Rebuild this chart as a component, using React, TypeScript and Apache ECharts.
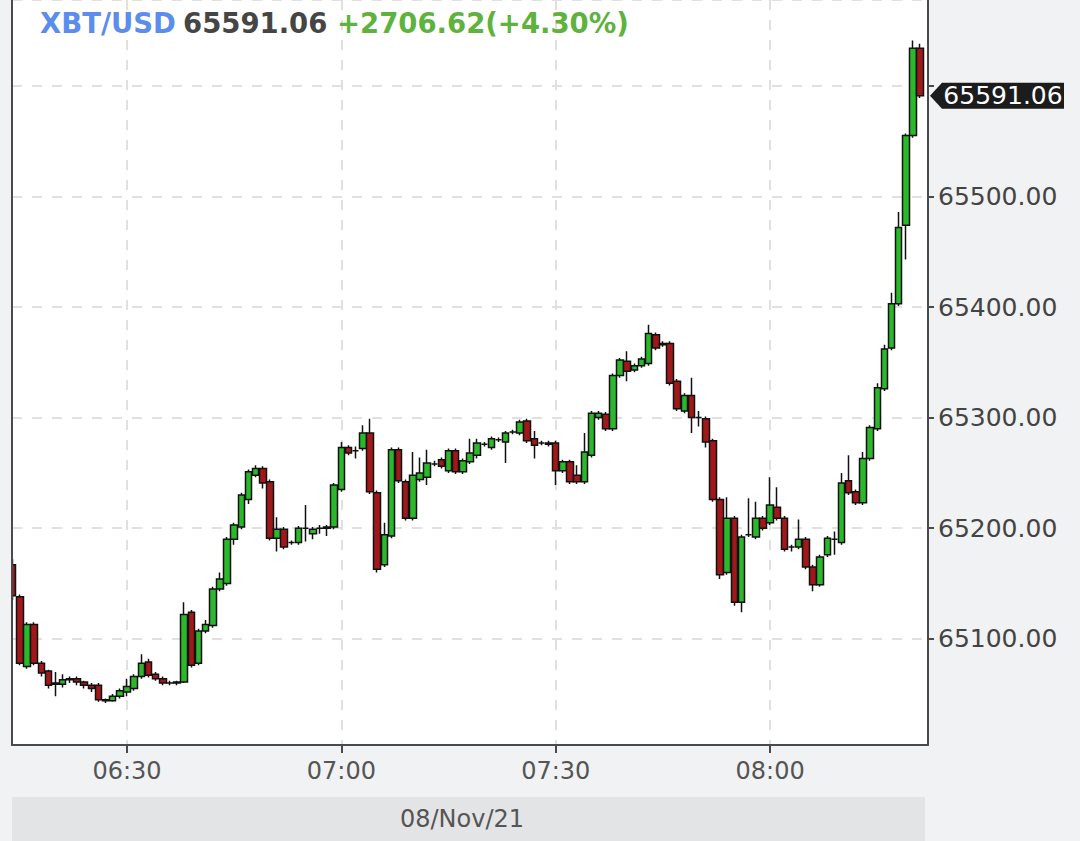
import React, { useEffect, useRef } from "react";
import * as echarts from "echarts";

// minutes after 06:00 of the first candle (06:14), one candle per minute
const FIRST_MINUTE = 14;

const opens = [
  65167, 65138, 65075, 65113, 65078, 65071, 65060, 65059, 65063, 65064,
  65061, 65058, 65058, 65045, 65044, 65048, 65052, 65055, 65066, 65079,
  65068, 65064, 65060, 65060, 65061, 65124, 65078, 65107, 65112, 65145,
  65150, 65190, 65201, 65226, 65248, 65254, 65242, 65191, 65199, 65187,
  65187, 65200, 65195, 65200, 65200, 65201, 65235, 65273, 65270, 65272,
  65286, 65232, 65167, 65193, 65271, 65242, 65209, 65244, 65246, 65258,
  65262, 65252, 65270, 65251, 65260, 65266, 65276, 65273, 65280, 65278,
  65287, 65286, 65297, 65281, 65277, 65277, 65277, 65252, 65260, 65248,
  65242, 65266, 65300, 65303, 65290, 65338, 65351, 65343, 65347, 65349,
  65375, 65367, 65367, 65333, 65306, 65320, 65300, 65299, 65279, 65226,
  65160, 65209, 65133, 65194, 65192, 65209, 65205, 65219, 65209, 65183,
  65183, 65190, 65165, 65149, 65176, 65190, 65187, 65243, 65233, 65223,
  65263, 65290, 65326, 65363, 65403, 65474, 65555, 65634,
];
const closes = [
  65139, 65078, 65113, 65078, 65069, 65058, 65059, 65063, 65064, 65061,
  65058, 65055, 65045, 65044, 65048, 65053, 65057, 65066, 65078, 65067,
  65064, 65060, 65060, 65061, 65122, 65076, 65107, 65113, 65145, 65154,
  65190, 65203, 65230, 65251, 65254, 65241, 65191, 65199, 65183, 65187,
  65200, 65200, 65199, 65200, 65201, 65239, 65273, 65268, 65270, 65286,
  65233, 65163, 65194, 65271, 65243, 65209, 65248, 65250, 65259, 65258,
  65256, 65270, 65251, 65261, 65268, 65277, 65276, 65281, 65280, 65286,
  65287, 65296, 65279, 65275, 65277, 65276, 65252, 65260, 65242, 65242,
  65269, 65304, 65304, 65290, 65338, 65352, 65342, 65347, 65353, 65376,
  65363, 65366, 65331, 65308, 65320, 65300, 65300, 65278, 65226, 65158,
  65209, 65133, 65192, 65194, 65209, 65200, 65221, 65209, 65181, 65183,
  65190, 65165, 65149, 65174, 65191, 65190, 65241, 65232, 65223, 65263,
  65291, 65327, 65362, 65403, 65472, 65555, 65634, 65591.06,
];
const lows = [
  65135, 65076, 65073, 65076, 65066, 65055, 65048, 65056, 65060, 65058,
  65055, 65052, 65043, 65042, 65043, 65046, 65048, 65053, 65064, 65065,
  65062, 65058, 65058, 65058, 65060, 65074, 65076, 65105, 65110, 65143,
  65148, 65185, 65199, 65222, 65246, 65236, 65189, 65179, 65181, 65185,
  65185, 65188, 65190, 65195, 65193, 65199, 65233, 65266, 65263, 65270,
  65231, 65160, 65165, 65191, 65241, 65207, 65207, 65242, 65239, 65256,
  65254, 65250, 65249, 65249, 65258, 65263, 65274, 65271, 65278, 65259,
  65285, 65284, 65277, 65263, 65275, 65274, 65239, 65250, 65240, 65240,
  65240, 65264, 65298, 65288, 65288, 65336, 65333, 65341, 65345, 65347,
  65361, 65364, 65329, 65306, 65304, 65286, 65292, 65273, 65224, 65154,
  65158, 65130, 65124, 65192, 65190, 65198, 65203, 65207, 65179, 65179,
  65181, 65163, 65143, 65147, 65174, 65176, 65185, 65230, 65221, 65221,
  65261, 65288, 65324, 65361, 65401, 65443, 65553, 65589,
];
const highs = [
  65172, 65140, 65115, 65115, 65080, 65072, 65070, 65068, 65066, 65066,
  65062, 65060, 65060, 65046, 65050, 65055, 65064, 65068, 65086, 65082,
  65070, 65066, 65062, 65062, 65133, 65126, 65109, 65117, 65147, 65160,
  65192, 65205, 65232, 65253, 65257, 65256, 65244, 65210, 65201, 65189,
  65202, 65221, 65201, 65203, 65203, 65241, 65278, 65275, 65274, 65293,
  65299, 65234, 65205, 65273, 65273, 65244, 65269, 65264, 65271, 65261,
  65264, 65272, 65272, 65263, 65281, 65281, 65278, 65283, 65282, 65288,
  65289, 65298, 65299, 65288, 65279, 65279, 65279, 65262, 65262, 65257,
  65286, 65306, 65306, 65305, 65340, 65354, 65360, 65349, 65355, 65384,
  65377, 65369, 65369, 65335, 65322, 65336, 65306, 65301, 65281, 65228,
  65228, 65211, 65194, 65227, 65224, 65211, 65246, 65237, 65211, 65185,
  65208, 65192, 65167, 65176, 65193, 65197, 65250, 65266, 65235, 65269,
  65293, 65331, 65366, 65413, 65486, 65557, 65641, 65638,
];

const SYMBOL = "XBT/USD";
const LAST_PRICE = "65591.06";
const CHANGE_TEXT = "+2706.62(+4.30%)";
const DATE_LABEL = "08/Nov/21";

const FONT = "DejaVu Sans";

function fmtTime(v: number): string {
  if (Math.abs(v / 30 - Math.round(v / 30)) > 1e-6) return "";
  const m = 360 + Math.round(v);
  const hh = Math.floor(m / 60);
  const mm = m % 60;
  return String(hh).padStart(2, "0") + ":" + String(mm).padStart(2, "0");
}

function fmtPrice(v: number): string {
  if (Math.abs(v / 100 - Math.round(v / 100)) > 1e-6) return "";
  if (v > 65550) return "";
  return v.toFixed(2);
}

export default function App() {
  const ref = useRef<HTMLDivElement>(null);
  useEffect(() => {
    if (!ref.current) return;
    const chart = echarts.init(ref.current, null, { renderer: "svg" });
    const data = opens.map((o, i) => [FIRST_MINUTE + i, o, closes[i], lows[i], highs[i]]);
    const axisColor = "#4a4a4a";
    const bg = "#f1f2f4";
    const gridLine = { show: true, lineStyle: { type: [10, 10], color: "#e0e0e0", width: 2 } };
    chart.setOption({
      animation: false,
      backgroundColor: bg,
      grid: {
        left: 12,
        right: 152,
        top: -4,
        bottom: 96,
        show: true,
        backgroundColor: "#ffffff",
        borderWidth: 0,
      },
      xAxis: {
        type: "value",
        min: 13.9,
        max: 142.1,
        minInterval: 30,
        maxInterval: 30,
        axisLine: { show: true, onZero: false, lineStyle: { color: axisColor, width: 2 } },
        axisTick: { show: true, length: 8, lineStyle: { color: axisColor, width: 2 } },
        axisLabel: {
          formatter: fmtTime,
          color: "#555",
          fontSize: 24,
          fontFamily: FONT,
          margin: 14,
          showMinLabel: false,
          showMaxLabel: false,
        },
        splitLine: gridLine,
      },
      yAxis: {
        type: "value",
        position: "right",
        min: 65004,
        max: 65677.6,
        minInterval: 100,
        maxInterval: 100,
        scale: true,
        axisLine: { show: true, onZero: false, lineStyle: { color: axisColor, width: 2 } },
        axisTick: { show: true, length: 6, lineStyle: { color: axisColor, width: 2 } },
        axisLabel: {
          formatter: fmtPrice,
          color: "#444",
          fontSize: 25,
          fontFamily: FONT,
          margin: 10,
          showMinLabel: false,
          showMaxLabel: false,
        },
        splitLine: gridLine,
      },
      series: [
        {
          type: "candlestick",
          data,
          barWidth: 7,
          clip: true,
          itemStyle: {
            color: "#2bb82b",
            color0: "#a0181a",
            borderColor: "#111",
            borderColor0: "#111",
            borderWidth: 1.5,
          },
        },
      ],
    });

    const lastClose = closes[closes.length - 1];
    const yTag = chart.convertToPixel({ yAxisIndex: 0 }, lastClose) as number;
    const hdr = (x: number, text: string, fill: string) => ({
      type: "text",
      x,
      y: 23,
      z: 50,
      style: { text, fill, fontSize: 27.5, fontWeight: "bold", fontFamily: FONT, verticalAlign: "middle" },
    });
    chart.setOption({
      graphic: [
        {
          type: "rect",
          shape: { x: 0, y: 0, width: 11, height: 746 },
          style: { fill: bg },
          z: 39,
        },
        {
          type: "line",
          shape: { x1: 12, y1: 0, x2: 12, y2: 746 },
          style: { stroke: axisColor, lineWidth: 2 },
          z: 40,
        },
        hdr(40, SYMBOL, "#5b8ded"),
        hdr(183, LAST_PRICE, "#454545"),
        hdr(337, CHANGE_TEXT, "#5eb33c"),
        {
          type: "rect",
          shape: { x: 12, y: 797, width: 913, height: 44 },
          style: { fill: "#e3e4e6" },
        },
        {
          type: "text",
          x: 462,
          y: 819,
          style: {
            text: DATE_LABEL,
            fill: "#555",
            fontSize: 24,
            fontFamily: FONT,
            align: "center",
            verticalAlign: "middle",
          },
        },
        {
          type: "polygon",
          shape: {
            points: [
              [930, yTag],
              [942, yTag - 13],
              [1064, yTag - 13],
              [1064, yTag + 13],
              [942, yTag + 13],
            ],
          },
          style: { fill: "#1c1c1c" },
          z: 100,
        },
        {
          type: "text",
          x: 1003,
          y: yTag,
          z: 101,
          style: {
            text: LAST_PRICE,
            fill: "#ffffff",
            fontSize: 25,
            fontFamily: FONT,
            align: "center",
            verticalAlign: "middle",
          },
        },
      ],
    });
    return () => chart.dispose();
  }, []);
  return (
    <div
      ref={ref}
      style={{ position: "absolute", left: 0, top: 0, width: 1080, height: 841 }}
    />
  );
}
